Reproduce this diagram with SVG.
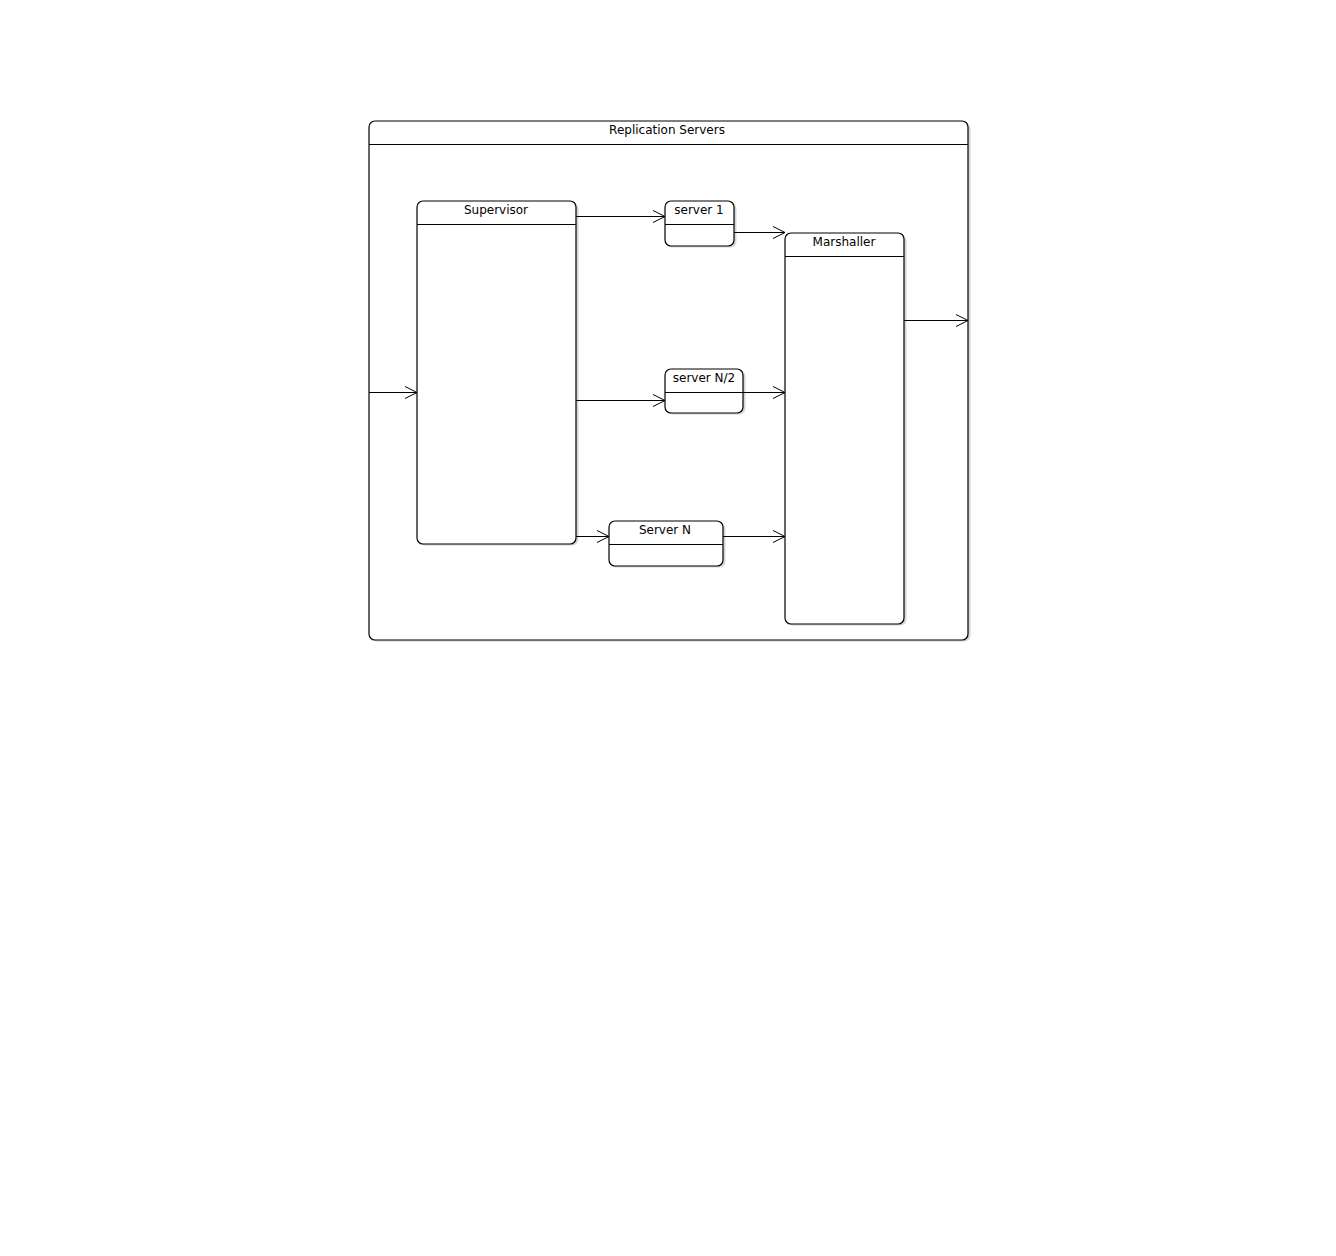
<svg xmlns="http://www.w3.org/2000/svg" width="1336" height="1256" viewBox="0 0 1336 1256">
<style>
.box{fill:#fff;stroke:#000;stroke-width:1.2}
.sh{fill:#bbb;stroke:none;opacity:0.6}
.hl{stroke:#000;stroke-width:1}
.t{font-family:"DejaVu Sans","Liberation Sans",sans-serif;font-size:12px;fill:#000;text-anchor:middle}
.c{stroke:#000;stroke-width:1;fill:none}
.ah{stroke:#000;stroke-width:1;fill:none}
</style>
<defs>
<marker id="arr" viewBox="-13 -7 14 14" refX="0" refY="0" markerWidth="14" markerHeight="14" markerUnits="userSpaceOnUse" orient="auto">
<path d="M-12,-6 L0,0 L-12,6" class="ah"/>
</marker>
</defs>
<rect width="1336" height="1256" fill="#fff"/>
<g id="replication-servers">
<rect class="sh" x="370.5" y="122.5" width="600" height="519" rx="6"/>
<rect class="box" x="369" y="121" width="599" height="519" rx="6"/>
<line class="hl" x1="369" y1="144.5" x2="968" y2="144.5"/>
<text class="t" x="667" y="134">Replication Servers</text>
</g>
<g id="supervisor">
<rect class="sh" x="418.5" y="202.5" width="160" height="343" rx="6"/>
<rect class="box" x="417" y="201" width="159" height="343" rx="6"/>
<line class="hl" x1="417" y1="224.5" x2="576" y2="224.5"/>
<text class="t" x="496" y="214">Supervisor</text>
</g>
<g id="server1">
<rect class="sh" x="666.5" y="202.5" width="70" height="45" rx="6"/>
<rect class="box" x="665" y="201" width="69" height="45" rx="6"/>
<line class="hl" x1="665" y1="224.5" x2="734" y2="224.5"/>
<text class="t" x="699" y="214">server 1</text>
</g>
<g id="serverN2">
<rect class="sh" x="666.5" y="370.5" width="79" height="44" rx="6"/>
<rect class="box" x="665" y="369" width="78" height="44" rx="6"/>
<line class="hl" x1="665" y1="392.5" x2="743" y2="392.5"/>
<text class="t" x="704" y="382">server N/2</text>
</g>
<g id="serverN">
<rect class="sh" x="610.5" y="522.5" width="115" height="45" rx="6"/>
<rect class="box" x="609" y="521" width="114" height="45" rx="6"/>
<line class="hl" x1="609" y1="544.5" x2="723" y2="544.5"/>
<text class="t" x="665" y="534">Server N</text>
</g>
<g id="marshaller">
<rect class="sh" x="786.5" y="234.5" width="120" height="391" rx="6"/>
<rect class="box" x="785" y="233" width="119" height="391" rx="6"/>
<line class="hl" x1="785" y1="256.5" x2="904" y2="256.5"/>
<text class="t" x="844" y="246">Marshaller</text>
</g>
<g id="connectors">
<line class="c" x1="369" y1="392.5" x2="417" y2="392.5" marker-end="url(#arr)"/>
<line class="c" x1="576" y1="216.5" x2="665" y2="216.5" marker-end="url(#arr)"/>
<line class="c" x1="734" y1="232.5" x2="785" y2="232.5" marker-end="url(#arr)"/>
<line class="c" x1="576" y1="400.5" x2="665" y2="400.5" marker-end="url(#arr)"/>
<line class="c" x1="743" y1="392.5" x2="785" y2="392.5" marker-end="url(#arr)"/>
<line class="c" x1="576" y1="536.5" x2="609" y2="536.5" marker-end="url(#arr)"/>
<line class="c" x1="723" y1="536.5" x2="785" y2="536.5" marker-end="url(#arr)"/>
<line class="c" x1="904" y1="320.5" x2="968" y2="320.5" marker-end="url(#arr)"/>
</g>
</svg>
